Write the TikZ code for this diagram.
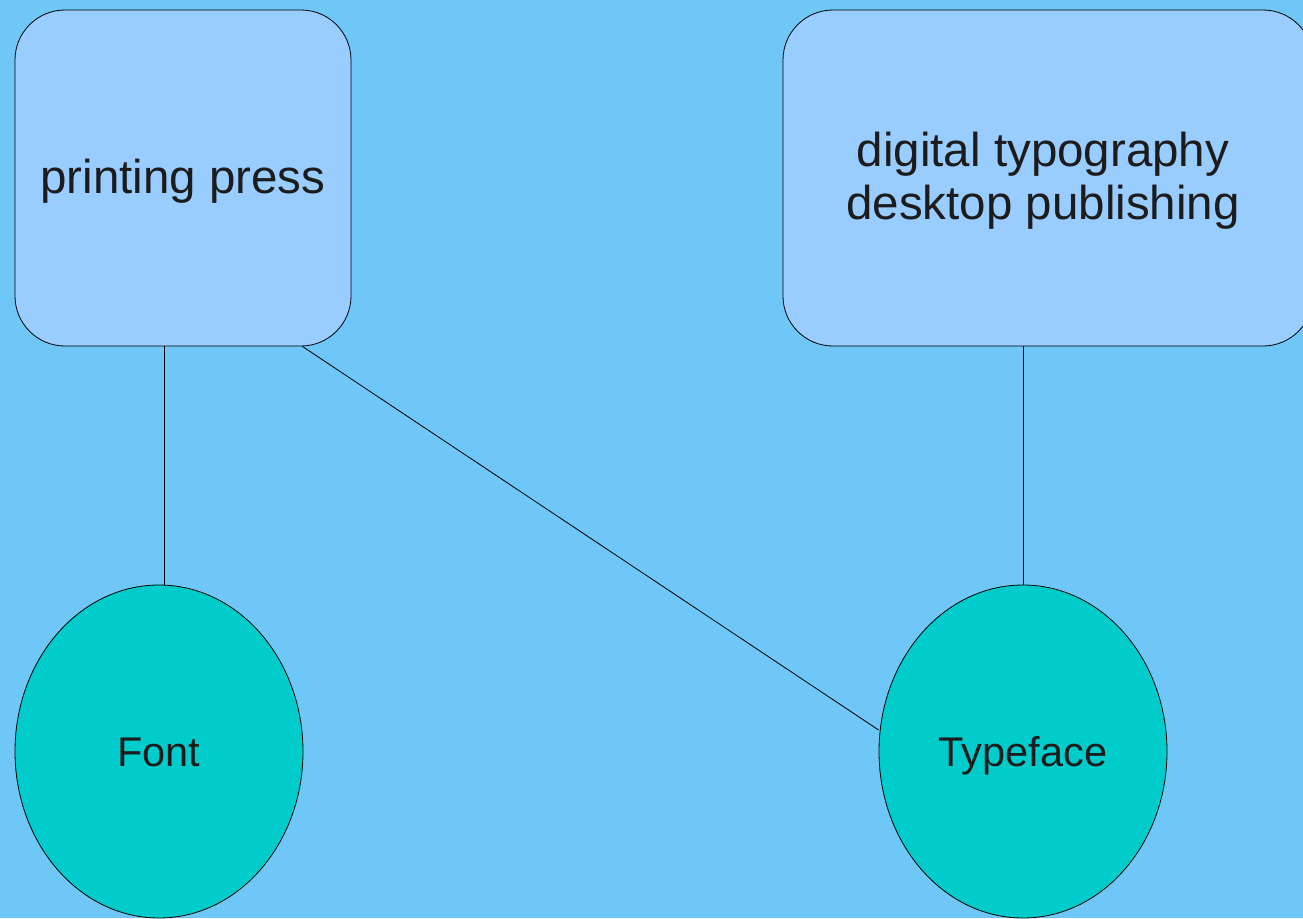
\documentclass[tikz,border=0pt]{standalone}
\usepackage{fontspec}
\setmainfont{Liberation Sans}
\usepackage{tikz}
\usetikzlibrary{shapes.geometric}

\definecolor{sfondo}{HTML}{6EC7F6}
\definecolor{riquadro}{HTML}{99CCFF}
\definecolor{ovale}{HTML}{00CCCC}
\definecolor{testo}{HTML}{1C1C1C}

% puntello per allineare le righe di testo nei riquadri
\newcommand{\puntello}{\rule[-0.214em]{0pt}{1.074em}}

\tikzset{
    riq/.style={draw=black, fill=riquadro, rounded corners=50pt, line width=0.8pt,
        minimum height=336pt, inner sep=0pt, text=testo, align=center,
        font=\fontsize{47.5}{53.3}\selectfont},
    ova/.style={draw=black, fill=ovale, ellipse, line width=0.8pt,
        minimum width=288pt, minimum height=333pt, inner sep=0pt, text=testo,
        text height=37.4pt, text depth=7pt,
        font=\fontsize{41.5}{48}\selectfont},
    linea/.style={line width=0.8pt}
}

\begin{document}
\begin{tikzpicture}[x=1pt, y=-1pt]

% Sfondo e dimensioni della figura
\fill[sfondo] (0,0) rectangle (1303,918);
\useasboundingbox (0,0) rectangle (1303,918);

% Riquadri in alto
\node[riq, minimum width=336pt] (press) at (183,178) {\puntello printing press};
\node[riq, minimum width=530pt] (digital) at (1048,178)
    {\puntello digital typography\hspace*{10pt}\\\puntello desktop publishing\hspace*{10pt}};

% Ovali in basso
\node[ova] (font) at (159,751.5) {Font};
\node[ova] (typeface) at (1023,751.5) {Typeface};

% Collegamenti
\draw[linea] ([xshift=-19pt]press.south) -- ([xshift=5pt]font.north); % verticale sinistra
\draw[linea] ([xshift=-49pt]press.south east) -- ([yshift=21.5pt]typeface.west); % diagonale
\draw[linea] ([xshift=-25pt]digital.south) -- (typeface.north); % verticale destra

\end{tikzpicture}
\end{document}
